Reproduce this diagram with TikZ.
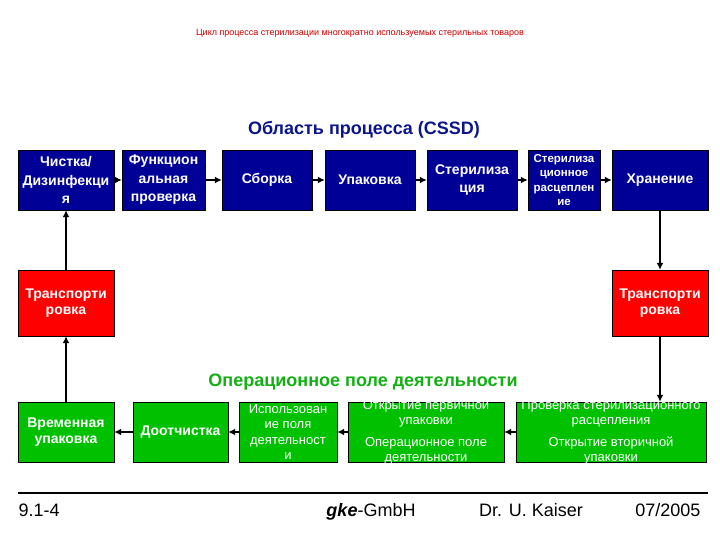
\documentclass[tikz,border=0pt]{standalone}
\usepackage{fontspec}
\setmainfont{Liberation Sans}
\usetikzlibrary{arrows.meta,positioning,calc}
\definecolor{cssdblue}{RGB}{0,0,150}
\definecolor{transred}{RGB}{255,0,0}
\definecolor{opgreen}{RGB}{0,192,0}
\definecolor{titlegreen}{RGB}{20,175,20}
\definecolor{titleblue}{RGB}{10,20,140}
\definecolor{headred}{RGB}{200,0,0}
\tikzset{stage/.style={rectangle,draw=black,fill=cssdblue,text=white,minimum height=60pt,inner sep=1pt,align=center,font=\bfseries\fontsize{14}{18.5}\selectfont},transport/.style={stage,fill=transred,minimum height=66pt,font=\bfseries\fontsize{14}{16.5}\selectfont},field/.style={stage,fill=opgreen,font=\bfseries\fontsize{14}{16.5}\selectfont},fieldtext/.style={field,inner sep=0pt,font=\fontsize{13}{15.5}\selectfont},opnote/.style={text=white,align=center,font=\fontsize{13}{15}\selectfont},flow/.style={-{Latex[length=7pt,width=7pt]},line width=2.4pt},footer/.style={font=\fontsize{18}{21}\selectfont,anchor=base}}

\begin{document}
\begin{tikzpicture}[x=1pt,y=-1pt]
\useasboundingbox (0,0) rectangle (720,540);
\node[font=\fontsize{9}{10}\selectfont,text=headred] (head) at (360,33) {Цикл процесса стерилизации многократно используемых стерильных товаров};
\node[font=\bfseries\fontsize{18}{21}\selectfont,text=titleblue] (area) at (364,130) {Область процесса (CSSD)};
\node[stage,minimum width=96pt] (clean) at (66,180) {Чистка/\\Дизинфекци\\я};
\node[stage,minimum width=83pt] (func) at (163.5,180) {Функцион\\альная\\проверка};
\node[stage,minimum width=90pt] (assembly) at (267,180) {Сборка};
\node[stage,minimum width=90pt] (pack) at (370,180) {Упаковка};
\node[stage,minimum width=90pt] (steril) at (472,180) {Стерилиза\\ция};
\node[stage,minimum width=72pt,inner sep=0pt,font=\bfseries\fontsize{11.5}{14.5}\selectfont] (release) at (564,180) {Стерилиза\\ционное\\расцеплен\\ие};
\node[stage,minimum width=96pt] (store) at (660,180) {Хранение};
\node[transport,minimum width=96pt] (transL) at (66,303) {Транспорти\\ровка};
\node[transport,minimum width=96pt] (transR) at (660,303) {Транспорти\\ровка};
\node[font=\bfseries\fontsize{18}{21}\selectfont,text=titlegreen] (oparea) at (363,382) {Операционное поле деятельности};
\node[field,minimum width=96pt] (temp) at (66,432) {Временная\\упаковка};
\node[field,minimum width=95pt] (reclean) at (180.5,432) {Доотчистка};
\node[fieldtext,minimum width=98pt] (use) at (288,432) {Использован\\ие поля\\деятельност\\и};
\node[field,minimum width=156pt,label={[opnote]center:{Открытие первичной\\упаковки\\[7pt]Операционное поле\\деятельности}}] (open) at (426,432) {};
\node[field,minimum width=190pt,label={[opnote]center:{Проверка стерилизационного\\расцепления\\[7pt]Открытие вторичной\\упаковки}}] (check) at (611,432) {};
\draw[flow] (clean) -- (func);
\draw[flow] (func) -- (assembly);
\draw[flow] (assembly) -- (pack);
\draw[flow] (pack) -- (steril);
\draw[flow] (steril) -- (release);
\draw[flow] (release) -- (store);
\draw[flow,line width=2pt] (store) -- (transR);
\draw[flow,line width=2pt] (transR.south) -- (transR.south |- check.north);
\draw[flow] (check) -- (open);
\draw[flow] (open) -- (use);
\draw[flow] (use) -- (reclean);
\draw[flow] (reclean) -- (temp);
\draw[flow,line width=2pt] (temp) -- (transL);
\draw[flow,line width=2pt] (transL) -- (clean);
\coordinate (ruleL) at (18,493);
\coordinate (ruleR) at (708,493);
\draw[line width=2pt] (ruleL) -- (ruleR);
\node[footer,anchor=base west] (slide) at (15,516) {9.1-4};
\node[footer] (gmbh) at (371,516) {\textbf{\textit{gke}}-GmbH};
\node[footer] (author) at (531,516) {Dr. U. Kaiser};
\node[footer,anchor=base east] (date) at (704,516) {07/2005};
\end{tikzpicture}
\end{document}
